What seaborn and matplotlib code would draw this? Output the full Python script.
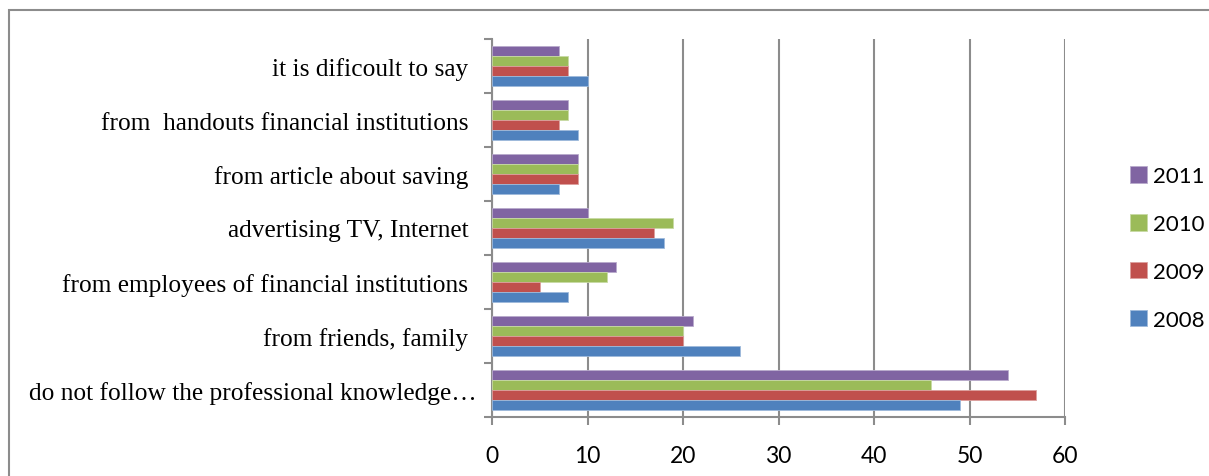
import matplotlib
matplotlib.use("Agg")
import matplotlib.pyplot as plt
import matplotlib.transforms as mtransforms
import matplotlib.colors as mcolors
import numpy as np
import seaborn as sns
import pandas as pd
from matplotlib.patches import Rectangle
from matplotlib.ticker import FixedLocator

categories = [
    "it is dificoult to say",
    "from  handouts financial institutions",
    "from article about saving",
    "advertising TV, Internet",
    "from employees of financial institutions",
    "from friends, family",
    "do not follow the professional knowledge\u2026",
]
years = ["2011", "2010", "2009", "2008"]
v2008 = [10, 9, 7, 18, 8, 26, 49]
v2009 = [8, 7, 9, 17, 5, 20, 57]
v2010 = [8, 8, 9, 19, 12, 20, 46]
v2011 = [7, 8, 9, 10, 13, 21, 54]
colors = {"2011": "#8064A2", "2010": "#9BBB59", "2009": "#C0504D", "2008": "#4F81BD"}

rows = []
for yr, vals in zip(["2008", "2009", "2010", "2011"], [v2008, v2009, v2010, v2011]):
    for c, v in zip(categories, vals):
        rows.append({"category": c, "year": yr, "value": v})
df = pd.DataFrame(rows)

sns.set_style("white")
fig = plt.figure(figsize=(12.09, 4.77), dpi=100)
ax = fig.add_axes([492 / 1209, 1 - 418 / 477, (1065 - 492) / 1209, (418 - 40) / 477])

sns.barplot(data=df, y="category", x="value", hue="year", order=categories,
            hue_order=years, palette=colors, orient="h", width=0.73, saturation=1,
            linewidth=0, gap=0, ax=ax, zorder=3)
for p in ax.patches:
    fc = np.array(mcolors.to_rgb(p.get_facecolor()))
    p.set_edgecolor(tuple(fc + (1 - fc) * 0.45))
    p.set_linewidth(0.6)

ax.set_xlim(0, 60)
ax.set_xticks(range(0, 61, 10))
ax.set_ylim(len(categories) - 0.5, -0.5)
ax.set_xlabel("")
ax.set_ylabel("")
ax.grid(axis="x", color="#8c8c8c", linewidth=1.5, zorder=0)
ax.grid(axis="y", visible=False)
for s in ["top", "right"]:
    ax.spines[s].set_visible(False)
for s in ["left", "bottom"]:
    ax.spines[s].set_color("#8c8c8c")
    ax.spines[s].set_linewidth(1.5)

ax.yaxis.set_minor_locator(FixedLocator([i - 0.5 for i in range(len(categories) + 1)]))
ax.tick_params(axis="y", which="major", length=0, pad=17)
ax.tick_params(axis="y", which="minor", length=6, width=1.5, color="#8c8c8c", left=True)
ax.tick_params(axis="x", which="major", length=6, width=1.5, color="#8c8c8c", bottom=True, pad=14)
ylabels = ax.get_yticklabels()
for lab in ylabels:
    lab.set_fontfamily("Liberation Serif")
    lab.set_fontsize(18.3)
    lab.set_color("black")
# the truncated label sits a little further right, as in the reference
ylabels[-1].set_transform(ylabels[-1].get_transform() +
                          mtransforms.ScaledTranslation(8 / 100, 0, fig.dpi_scale_trans))
for lab in ax.get_xticklabels():
    lab.set_fontfamily("Lato")
    lab.set_fontsize(16.5)
    lab.set_color("black")

handles, labels = ax.get_legend_handles_labels()
leg = ax.legend(handles, labels, loc="center left", bbox_to_anchor=(1110 / 1209, 1 - 249 / 477),
                bbox_transform=fig.transFigure, frameon=False, handlelength=0.75,
                handleheight=0.75, handletextpad=0.3, labelspacing=1.25,
                prop={"family": "Lato", "size": 16})
for t in leg.get_texts():
    t.set_color("black")

fig.add_artist(Rectangle((9 / 1209, -0.1), 1.2, 1 - 11 / 477 + 0.1, transform=fig.transFigure,
                         fill=False, edgecolor="#8c8c8c", linewidth=1.5))

fig.savefig("out.png", dpi=100)
